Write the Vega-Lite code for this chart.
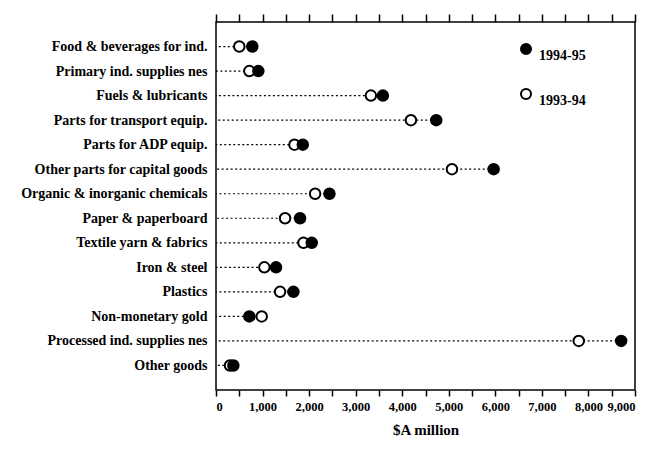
{
  "$schema": "https://vega.github.io/schema/vega-lite/v6.json",
  "width": 419,
  "height": 368,
  "autosize": "none",
  "padding": {"left": 216, "top": 22, "right": 18, "bottom": 62},
  "background": "white",
  "config": {
    "font": "Liberation Serif",
    "view": {"stroke": "black", "strokeWidth": 1.5},
    "axis": {"labelFont": "Liberation Serif", "titleFont": "Liberation Serif", "labelColor": "black", "titleColor": "black", "domainColor": "black", "tickColor": "black", "tickWidth": 1.5, "tickOpacity": 1, "grid": false}
  },
  "data": {
    "values": [
      {"category": "Food & beverages for ind.", "year": "1993-94", "value": 500},
      {"category": "Primary ind. supplies nes", "year": "1993-94", "value": 716},
      {"category": "Fuels & lubricants", "year": "1993-94", "value": 3327},
      {"category": "Parts for transport equip.", "year": "1993-94", "value": 4187},
      {"category": "Parts for ADP equip.", "year": "1993-94", "value": 1685},
      {"category": "Other parts for capital goods", "year": "1993-94", "value": 5068},
      {"category": "Organic & inorganic chemicals", "year": "1993-94", "value": 2129},
      {"category": "Paper & paperboard", "year": "1993-94", "value": 1484},
      {"category": "Textile yarn & fabrics", "year": "1993-94", "value": 1878},
      {"category": "Iron & steel", "year": "1993-94", "value": 1039},
      {"category": "Plastics", "year": "1993-94", "value": 1376},
      {"category": "Non-monetary gold", "year": "1993-94", "value": 982},
      {"category": "Processed ind. supplies nes", "year": "1993-94", "value": 7792},
      {"category": "Other goods", "year": "1993-94", "value": 301},
      {"category": "Food & beverages for ind.", "year": "1994-95", "value": 780},
      {"category": "Primary ind. supplies nes", "year": "1994-95", "value": 910},
      {"category": "Fuels & lubricants", "year": "1994-95", "value": 3585},
      {"category": "Parts for transport equip.", "year": "1994-95", "value": 4731},
      {"category": "Parts for ADP equip.", "year": "1994-95", "value": 1864},
      {"category": "Other parts for capital goods", "year": "1994-95", "value": 5964},
      {"category": "Organic & inorganic chemicals", "year": "1994-95", "value": 2437},
      {"category": "Paper & paperboard", "year": "1994-95", "value": 1806},
      {"category": "Textile yarn & fabrics", "year": "1994-95", "value": 2057},
      {"category": "Iron & steel", "year": "1994-95", "value": 1290},
      {"category": "Plastics", "year": "1994-95", "value": 1663},
      {"category": "Non-monetary gold", "year": "1994-95", "value": 716},
      {"category": "Processed ind. supplies nes", "year": "1994-95", "value": 8703},
      {"category": "Other goods", "year": "1994-95", "value": 373}
    ]
  },
  "layer": [
    {
      "transform": [{"aggregate": [{"op": "max", "field": "value", "as": "maxv"}], "groupby": ["category"]}],
      "mark": {"type": "rule", "color": "black", "strokeDash": [2, 2.5], "strokeWidth": 1.2},
      "encoding": {
        "y": {"field": "category", "type": "nominal", "sort": null},
        "x": {
          "field": "maxv", "type": "quantitative",
          "axis": {
            "orient": "bottom",
            "title": "$A million", "titleFontSize": 15, "titleFontWeight": "bold", "titlePadding": 10,
            "values": [0, 500, 1000, 1500, 2000, 2500, 3000, 3500, 4000, 4500, 5000, 5500, 6000, 6500, 7000, 7500, 8000, 8500, 9000],
            "labelExpr": "datum.value % 1000 == 0 ? format(datum.value, ',') : ''",
            "labelFontSize": 12.5, "labelFontWeight": "bold", "labelPadding": 4, "ticks": true, "tickSize": 6, "tickColor": "black", "labelOverlap": false, "domain": false
          }
        },
        "x2": {"datum": 0}
      }
    },
    {
      "mark": {"type": "point", "shape": "circle", "filled": true, "stroke": "black", "strokeWidth": 2, "size": 110, "opacity": 1},
      "encoding": {
        "y": {
          "field": "category", "type": "nominal", "sort": null,
          "scale": {"type": "point", "padding": 1},
          "axis": {"title": null, "ticks": false, "labelPadding": 9, "labelFontSize": 14, "labelFontWeight": "bold", "labelLimit": 400, "domain": false}
        },
        "x": {
          "field": "value", "type": "quantitative",
          "scale": {"domain": [0, 9000], "nice": false},
          "axis": {"orient": "top", "labels": false, "title": null, "domain": false, "ticks": true, "tickSize": 8, "tickColor": "black",
            "values": [0, 500, 1000, 1500, 2000, 2500, 3000, 3500, 4000, 4500, 5000, 5500, 6000, 6500, 7000, 7500, 8000, 8500, 9000]}
        },
        "fill": {
          "field": "year", "type": "nominal",
          "scale": {"domain": ["1994-95", "1993-94"], "range": ["black", "white"]},
          "legend": {
            "title": null, "orient": "none", "legendX": 303, "legendY": 20,
            "symbolType": "circle", "symbolSize": 100, "symbolStrokeColor": "black", "symbolStrokeWidth": 2,
            "labelFontSize": 14, "labelFontWeight": "bold", "labelFont": "Liberation Serif", "labelColor": "black",
            "labelBaseline": "top", "rowPadding": 22, "labelOffset": 6
          }
        },
        "order": {"field": "year", "type": "nominal", "sort": "ascending"}
      }
    }
  ],
  "resolve": {"axis": {"x": "independent"}}
}
